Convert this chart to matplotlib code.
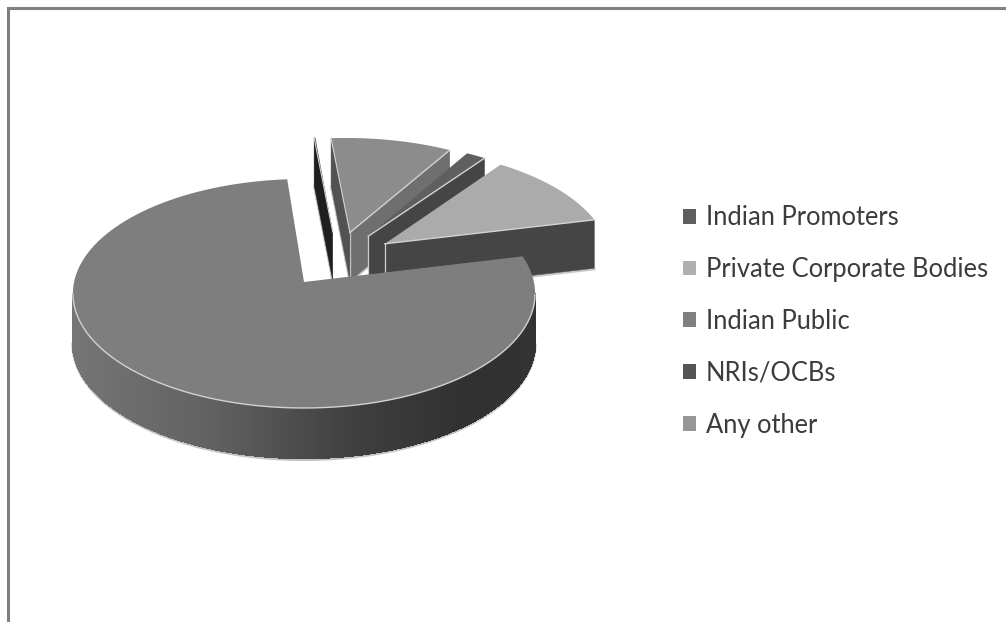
import matplotlib
matplotlib.use('Agg')
import matplotlib.pyplot as plt
from matplotlib.patches import Patch
import numpy as np

labels = ['Indian Promoters', 'Private Corporate Bodies', 'Indian Public', 'NRIs/OCBs', 'Any other']
shares = [1.56, 11.22, 77.44, 0.10, 9.68]
top_colors = ['#5f5f5f', '#ababab', '#7e7e7e', '#3a3a3a', '#8c8c8c']
legend_colors = ['#5e5e5e', '#b0b0b0', '#808080', '#555555', '#969696']
# colour of the cut faces, for the clockwise and the anticlockwise end of a slice
low_walls = ['#454545', '#454545', '#454545', '#1f1f1f', '#6f6f6f']
high_walls = ['#454545', '#454545', '#454545', '#1f1f1f', '#525252']
rim_stops = [0.0, 0.3, 0.6, 0.85, 1.0]
rim_greys = [0.46, 0.38, 0.25, 0.19, 0.20]

start_angle = 59.4
explode = 0.256

# camera for the pie plane, in pixels
apex_x, apex_y = 304, 282
focal_x, focal_y, depth = 2290, 1129, 9.96


def project(px, py, drop=0.0):
    px, py = np.asarray(px, float), np.asarray(py, float)
    sx = apex_x + focal_x * px / (depth + py)
    sy = apex_y - focal_y * py / (depth + py) + drop * (49 - py)
    return sx, sy


def unit(deg):
    return np.array([np.cos(np.radians(deg)), np.sin(np.radians(deg))])


highs = start_angle - np.cumsum([0] + shares[:-1]) * 3.6
lows = highs - np.array(shares) * 3.6
mids = (highs + lows) / 2
biggest = int(np.argmax(shares))
offsets = [explode * (unit(m) - unit(mids[biggest])) for m in mids]

fig = plt.figure(figsize=(10.06, 6.22), dpi=100)
ax = fig.add_axes([0, 0, 1, 1])
ax.set_xlim(0, 1006)
ax.set_ylim(622, 0)
ax.axis('off')

# sheet border, only top and left are on the page
ax.plot([8, 8, 1006], [622, 8, 8], color='#808080', lw=2.2, solid_joinstyle='miter')

order = sorted(range(len(shares)), key=lambda i: -offsets[i][1])

for i in order:
    z = 2 + order.index(i)
    off = offsets[i]
    n = max(int((highs[i] - lows[i]) * 2), 2)
    t = np.radians(np.linspace(lows[i], highs[i], n))
    arc_x = off[0] + np.cos(t)
    arc_y = off[1] + np.sin(t)
    sx, sy = project(arc_x, arc_y)
    bx, by = project(arc_x, arc_y, 1)
    ax_x, ax_y = project(off[0], off[1])
    ab_x, ab_y = project(off[0], off[1], 1)

    # outer rim, shaded from left to right
    front = np.where(np.diff(sx) > 0)[0]
    if len(front):
        ax.plot(bx[front], by[front] + 1.5, color='#c2c2c2', lw=2.2, zorder=z)
    for j in front:
        g = np.interp((sx[j] - apex_x + 231) / 462, rim_stops, rim_greys)
        ax.fill([sx[j], sx[j + 1], bx[j + 1], bx[j]], [sy[j], sy[j + 1], by[j + 1], by[j]],
                color=(g, g, g), lw=1.0, antialiased=False, zorder=z)

    # cut faces, only the ones turned towards the viewer
    if sx[0] > ax_x:
        ax.plot([ab_x, bx[0]], [ab_y + 1, by[0] + 1], color='#c8c8c8', lw=1.6, zorder=z)
        ax.fill([ax_x, sx[0], bx[0], ab_x], [ax_y, sy[0], by[0], ab_y],
                color=low_walls[i], lw=0.3, zorder=z)
        ax.plot([ax_x, ab_x], [ax_y, ab_y], color='#d0d0d0', lw=0.9, zorder=z)
    if ax_x > sx[-1]:
        ax.plot([bx[-1], ab_x], [by[-1] + 1, ab_y + 1], color='#c8c8c8', lw=1.6, zorder=z)
        ax.fill([sx[-1], ax_x, ab_x, bx[-1]], [sy[-1], ax_y, ab_y, by[-1]],
                color=high_walls[i], lw=0.3, zorder=z)

    # top face with its pale front edges
    poly_x = np.r_[ax_x, sx]
    poly_y = np.r_[ax_y, sy]
    ax.fill(poly_x, poly_y, color=top_colors[i], lw=0, zorder=z)
    if len(front):
        ax.plot(sx[front], sy[front], color='#d2d2d2', lw=1.0, zorder=z)
    if sx[0] > ax_x:
        ax.plot([ax_x, sx[0]], [ax_y, sy[0]], color='#d2d2d2', lw=1.0, zorder=z)
    if ax_x > sx[-1]:
        ax.plot([sx[-1], ax_x], [sy[-1], ax_y], color='#d2d2d2', lw=0.8, zorder=z)

handles = [Patch(facecolor=c, edgecolor='none', label=l) for c, l in zip(legend_colors, labels)]
legend = ax.legend(handles=handles, loc='upper left', bbox_to_anchor=(0.679, 0.670), frameon=False,
                   prop={'family': 'Lato', 'size': 18.4}, labelcolor='#3c3c3c', labelspacing=1.05,
                   handlelength=0.52, handleheight=0.52, handletextpad=0.36, borderpad=0, borderaxespad=0)

fig.savefig('out.png', dpi=100, facecolor='white')
